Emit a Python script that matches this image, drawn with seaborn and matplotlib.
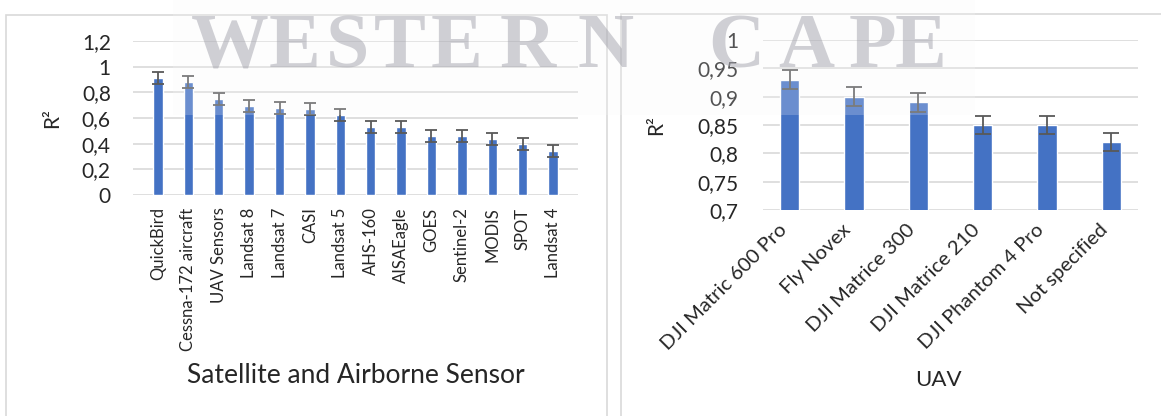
import numpy as np
import pandas as pd
import matplotlib
matplotlib.use("Agg")
import matplotlib.pyplot as plt
from matplotlib.patches import Rectangle
from matplotlib.ticker import FuncFormatter, MultipleLocator
from matplotlib.transforms import ScaledTranslation
import seaborn as sns

# Mean R² per sensor platform
sensors = ["QuickBird", "Cessna-172 aircraft", "UAV Sensors", "Landsat 8", "Landsat 7",
           "CASI", "Landsat 5", "AHS-160", "AISAEagle", "GOES", "Sentinel-2",
           "MODIS", "SPOT", "Landsat 4"]
sensor_r2 = [0.91, 0.88, 0.75, 0.69, 0.68, 0.67, 0.62, 0.53, 0.53, 0.46, 0.46, 0.44, 0.40, 0.34]

# Mean R² per UAV model
uavs = ["DJI Matric 600 Pro", "Fly Novex", "DJI Matrice 300", "DJI Matrice 210",
        "DJI Phantom 4 Pro", "Not specified"]
uav_r2 = [0.93, 0.90, 0.89, 0.85, 0.85, 0.82]


def std_error(vals):
    v = np.asarray(vals, dtype=float)
    return v.std(ddof=1) / np.sqrt(len(v))


sns.set_style("white")
plt.rcParams["font.family"] = ["Lato", "DejaVu Sans"]

BAR = "#4472C4"
GRID = "#d9d9d9"
TXT = "#262626"
ERR = "#595959"

W, H = 1161, 416
fig = plt.figure(figsize=(W / 100, H / 100), dpi=100)


def px_axes(x0, y0, x1, y1):
    return fig.add_axes([x0 / W, 1 - y1 / H, (x1 - x0) / W, (y1 - y0) / H])


comma = FuncFormatter(lambda v, _: f"{v:g}".replace(".", ","))


def style(ax):
    sns.despine(ax=ax, left=True, bottom=True)
    ax.set_axisbelow(True)
    ax.yaxis.grid(True, color=GRID, linewidth=1.2)
    ax.xaxis.grid(False)
    ax.tick_params(length=0)
    ax.yaxis.set_major_formatter(comma)


# ---- left panel: satellite and airborne sensors
df_s = pd.DataFrame({"sensor": sensors, "r2": sensor_r2})
ax1 = px_axes(133, 41, 578, 195)
sns.barplot(data=df_s, x="sensor", y="r2", color=BAR, saturation=1, width=0.31,
            errorbar=None, ax=ax1, zorder=2)
ax1.errorbar(np.arange(len(sensors)), df_s["r2"], yerr=std_error(sensor_r2), fmt="none",
             ecolor=ERR, elinewidth=1.3, capsize=4, capthick=1.3, zorder=3)
style(ax1)
ax1.set_ylim(0, 1.2)
ax1.yaxis.set_major_locator(MultipleLocator(0.2))
ax1.tick_params(axis="y", labelsize=15, labelcolor=TXT, pad=16)
ax1.tick_params(axis="x", labelsize=12, labelcolor=TXT, pad=9)
for lab in ax1.get_xticklabels():
    lab.set_rotation(90)
    lab.set_ha("center")
    lab.set_va("top")
ax1.set_xlabel("Satellite and Airborne Sensor", fontsize=19, color=TXT, va="center")
ax1.xaxis.set_label_coords(0.5, -1.169)
ax1.set_ylabel("R²", fontsize=15, color=TXT, va="center")
ax1.yaxis.set_label_coords(-0.182, 0.5)

# ---- right panel: UAV models
df_u = pd.DataFrame({"uav": uavs, "r2": uav_r2})
ax2 = px_axes(763, 40, 1138, 210)
sns.barplot(data=df_u, x="uav", y="r2", color=BAR, saturation=1, width=0.30,
            errorbar=None, ax=ax2, zorder=2)
ax2.errorbar(np.arange(len(uavs)), df_u["r2"], yerr=std_error(uav_r2), fmt="none",
             ecolor=ERR, elinewidth=1.3, capsize=5.5, capthick=1.3, zorder=3)
style(ax2)
ax2.set_ylim(0.7, 1.0)
ax2.yaxis.set_major_locator(MultipleLocator(0.05))
ax2.tick_params(axis="y", labelsize=15, labelcolor=TXT, pad=18)
ax2.tick_params(axis="x", labelsize=14.6, labelcolor=TXT, pad=7)
shift = ScaledTranslation(-6 / 100, -7 / 100, fig.dpi_scale_trans)
for lab in ax2.get_xticklabels():
    lab.set_rotation(45)
    lab.set_ha("right")
    lab.set_va("center")
    lab.set_rotation_mode("anchor")
    lab.set_transform(lab.get_transform() + shift)
ax2.set_xlabel("UAV", fontsize=16, color=TXT, va="center")
ax2.xaxis.set_label_coords(0.467, -1.0)
ax2.set_ylabel("R²", fontsize=15, color=TXT, va="center")
ax2.yaxis.set_label_coords(-0.285, 0.5)

# ---- panel frames
for x0, y0, x1 in [(6, 15, 607), (621, 14, 1170)]:
    fig.add_artist(Rectangle((x0 / W, -0.1), (x1 - x0) / W, 1.1 - y0 / H,
                             transform=fig.transFigure, fill=False,
                             edgecolor=GRID, linewidth=1.2, zorder=5))

# ---- university watermark band
fig.add_artist(Rectangle((173 / W, 1 - 115 / H), (975 - 173) / W, 115 / H,
                         transform=fig.transFigure, facecolor="#f6f6f8",
                         edgecolor="none", alpha=0.22, zorder=6))
letters = list("WESTERNCAPE")
centers = [230, 295, 347, 400, 457, 528, 606, 736, 806, 872, 921]
for ch, cx in zip(letters, centers):
    fig.text(cx / W, 1 - 67 / H, ch, family=["Liberation Serif", "DejaVu Serif"],
             fontsize=56, fontweight="bold", color="#a2a2ac", alpha=0.5,
             ha="center", va="baseline", zorder=7)

fig.savefig("out.png", dpi=100)
